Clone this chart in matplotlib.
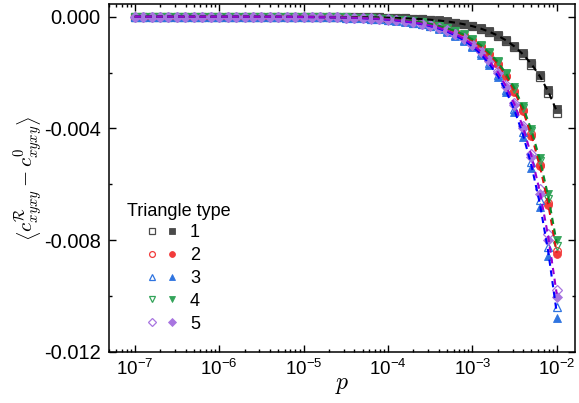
import numpy as np
import matplotlib
matplotlib.use('Agg')
import matplotlib.pyplot as plt
from matplotlib.lines import Line2D
from matplotlib.legend_handler import HandlerTuple
from matplotlib.ticker import FormatStrFormatter, MultipleLocator, LogLocator, NullFormatter

plt.rcParams['font.family'] = ['Liberation Sans', 'DejaVu Sans']
plt.rcParams['mathtext.fontset'] = 'cm'
plt.rcParams['axes.unicode_minus'] = False

# p grid: ten points per decade from 1e-7 to 1e-2
mant = [1.00, 1.26, 1.58, 2.00, 2.51, 3.16, 3.98, 5.01, 6.31, 7.94]
p = [m * 10.0**e for e in range(-7, -2) for m in mant] + [1e-2]

# magnitudes of <c^R - c^0>, in units of 1e-4 (values are negative)
black_o = [0.000, 0.000, 0.001, 0.001, 0.001, 0.001, 0.001, 0.002, 0.002, 0.003,
           0.003, 0.004, 0.005, 0.007, 0.009, 0.011, 0.014, 0.017, 0.022, 0.027,
           0.035, 0.043, 0.055, 0.069, 0.087, 0.109, 0.137, 0.173, 0.218, 0.274,
           0.35, 0.43, 0.55, 0.69, 0.87, 1.09, 1.37, 1.73, 2.18, 2.74,
           3.45, 4.34, 5.47, 6.88, 8.67, 10.91, 13.73, 17.29, 21.77, 27.40,
           34.5]
black_f = [0.000, 0.000, 0.001, 0.001, 0.001, 0.001, 0.001, 0.002, 0.002, 0.003,
           0.003, 0.004, 0.005, 0.007, 0.008, 0.010, 0.013, 0.017, 0.021, 0.026,
           0.033, 0.042, 0.052, 0.066, 0.083, 0.104, 0.131, 0.165, 0.208, 0.262,
           0.33, 0.42, 0.52, 0.66, 0.83, 1.04, 1.31, 1.65, 2.08, 2.62,
           3.30, 4.15, 5.23, 6.58, 8.29, 10.43, 13.14, 16.54, 20.82, 26.21,
           33.0]
red_o = [0.001, 0.001, 0.001, 0.002, 0.002, 0.003, 0.003, 0.004, 0.005, 0.007,
         0.008, 0.011, 0.013, 0.017, 0.021, 0.027, 0.033, 0.042, 0.053, 0.067,
         0.084, 0.106, 0.133, 0.168, 0.211, 0.266, 0.334, 0.421, 0.530, 0.667,
         0.84, 1.06, 1.33, 1.68, 2.11, 2.66, 3.34, 4.21, 5.30, 6.67,
         8.40, 10.58, 13.31, 16.76, 21.10, 26.56, 33.44, 42.10, 53.00, 66.72,
         84.0]
red_f = [0.001, 0.001, 0.001, 0.002, 0.002, 0.003, 0.003, 0.004, 0.005, 0.007,
         0.009, 0.011, 0.013, 0.017, 0.021, 0.027, 0.034, 0.043, 0.054, 0.068,
         0.085, 0.107, 0.135, 0.170, 0.214, 0.269, 0.338, 0.426, 0.536, 0.675,
         0.85, 1.07, 1.35, 1.70, 2.14, 2.69, 3.38, 4.26, 5.36, 6.75,
         8.50, 10.70, 13.47, 16.96, 21.35, 26.88, 33.84, 42.60, 53.64, 67.52,
         85.0]
blue_o = [0.001, 0.001, 0.002, 0.002, 0.003, 0.003, 0.004, 0.005, 0.007, 0.008,
          0.010, 0.013, 0.016, 0.021, 0.026, 0.033, 0.041, 0.052, 0.066, 0.083,
          0.104, 0.131, 0.165, 0.208, 0.261, 0.329, 0.414, 0.521, 0.656, 0.826,
          1.04, 1.31, 1.65, 2.08, 2.61, 3.29, 4.14, 5.21, 6.56, 8.26,
          10.40, 13.09, 16.48, 20.75, 26.12, 32.88, 41.40, 52.12, 65.62, 82.61,
          104.0]
blue_f = [0.001, 0.001, 0.002, 0.002, 0.003, 0.003, 0.004, 0.005, 0.007, 0.009,
          0.011, 0.014, 0.017, 0.022, 0.027, 0.034, 0.043, 0.054, 0.068, 0.086,
          0.108, 0.136, 0.171, 0.216, 0.271, 0.342, 0.430, 0.541, 0.682, 0.858,
          1.08, 1.36, 1.71, 2.16, 2.71, 3.42, 4.30, 5.41, 6.82, 8.58,
          10.80, 13.60, 17.12, 21.55, 27.13, 34.15, 42.99, 54.13, 68.15, 85.78,
          108.0]
green_o = [0.001, 0.001, 0.001, 0.002, 0.002, 0.003, 0.003, 0.004, 0.005, 0.007,
           0.008, 0.010, 0.013, 0.016, 0.021, 0.026, 0.033, 0.041, 0.052, 0.065,
           0.082, 0.103, 0.130, 0.164, 0.206, 0.259, 0.326, 0.411, 0.517, 0.651,
           0.82, 1.03, 1.30, 1.64, 2.06, 2.59, 3.26, 4.11, 5.17, 6.51,
           8.20, 10.32, 13.00, 16.36, 20.60, 25.93, 32.64, 41.10, 51.74, 65.13,
           82.0]
green_f = [0.001, 0.001, 0.001, 0.002, 0.002, 0.003, 0.003, 0.004, 0.005, 0.006,
           0.008, 0.010, 0.013, 0.016, 0.020, 0.025, 0.032, 0.040, 0.050, 0.064,
           0.080, 0.101, 0.127, 0.160, 0.201, 0.253, 0.319, 0.401, 0.505, 0.635,
           0.80, 1.01, 1.27, 1.60, 2.01, 2.53, 3.19, 4.01, 5.05, 6.35,
           8.00, 10.07, 12.68, 15.96, 20.10, 25.30, 31.85, 40.10, 50.48, 63.54,
           80.0]
purple_o = [0.001, 0.001, 0.002, 0.002, 0.002, 0.003, 0.004, 0.005, 0.006, 0.008,
            0.010, 0.012, 0.016, 0.020, 0.025, 0.031, 0.039, 0.049, 0.062, 0.078,
            0.098, 0.123, 0.155, 0.196, 0.246, 0.310, 0.390, 0.491, 0.618, 0.778,
            0.98, 1.23, 1.55, 1.96, 2.46, 3.10, 3.90, 4.91, 6.18, 7.78,
            9.80, 12.34, 15.53, 19.55, 24.62, 30.99, 39.01, 49.12, 61.84, 77.84,
            98.0]
purple_f = [0.001, 0.001, 0.002, 0.002, 0.003, 0.003, 0.004, 0.005, 0.006, 0.008,
            0.010, 0.013, 0.016, 0.020, 0.025, 0.032, 0.040, 0.050, 0.063, 0.080,
            0.101, 0.127, 0.159, 0.201, 0.253, 0.318, 0.400, 0.504, 0.634, 0.798,
            1.01, 1.27, 1.59, 2.01, 2.53, 3.18, 4.00, 5.04, 6.34, 7.98,
            10.05, 12.65, 15.93, 20.05, 25.25, 31.78, 40.01, 50.37, 63.42, 79.83,
            100.5]

labels = ['1', '2', '3', '4', '5']
opens = [black_o, red_o, blue_o, green_o, purple_o]
fills = [black_f, red_f, blue_f, green_f, purple_f]
markers = ['s', 'o', '^', 'v', 'D']
msizes = [5.6, 5.6, 6.2, 6.2, 5.0]
mcolors = ['#4a4a4a', '#f23b3b', '#2f74e0', '#33a45a', '#a875e0']
lcolors = ['#000000', '#e01010', '#0000ff', '#0a8a2a', '#9a00d0']

fig = plt.figure(figsize=(5.79, 4.03), dpi=100)
ax = fig.add_axes([0.1883, 0.1273, 0.8048, 0.8627])

p = np.array(p)
for o, f, mk, ms, mc in zip(opens, fills, markers, msizes, mcolors):
    ax.plot(p, -np.array(o) * 1e-4, linestyle='none', marker=mk, ms=ms,
            mfc='none', mec=mc, mew=0.9, zorder=2)
    ax.plot(p, -np.array(f) * 1e-4, linestyle='none', marker=mk, ms=ms,
            mfc=mc, mec=mc, mew=0.6, zorder=2)

# dashed guide through each pair of series
for o, f, lc in zip(opens, fills, lcolors):
    mid = -0.5 * (np.array(o) + np.array(f)) * 1e-4
    ax.plot(p, mid, linestyle=(0, (3.0, 2.2)), color=lc, lw=1.5, zorder=3)

ax.set_xscale('log')
ax.set_xlim(10**-7.305, 10**-1.783)
ax.set_ylim(-0.012, 0.000455)
ax.xaxis.set_major_locator(LogLocator(base=10, numticks=20))
ax.xaxis.set_minor_locator(LogLocator(base=10, subs=np.arange(2, 10), numticks=20))
ax.xaxis.set_minor_formatter(NullFormatter())
ax.yaxis.set_major_locator(MultipleLocator(0.004))
ax.yaxis.set_minor_locator(MultipleLocator(0.002))
ax.yaxis.set_major_formatter(FormatStrFormatter('%.3f'))

ax.tick_params(which='both', direction='in', top=True, right=True, width=1.0)
ax.tick_params(which='major', length=5)
ax.tick_params(which='minor', length=2.5)
ax.tick_params(axis='x', labelsize=13.5, pad=5.5)
ax.tick_params(axis='y', labelsize=14.5, pad=6)
for s in ax.spines.values():
    s.set_linewidth(1.1)

ax.set_xlabel(r'$p$', fontsize=17, labelpad=-4)
ax.set_ylabel(r'$\left\langle c^{\mathcal{R}}_{xyxy} - c^{0}_{xyxy} \right\rangle$',
              fontsize=15, labelpad=0)

handles = []
for mk, mc in zip(markers, mcolors):
    ho = Line2D([], [], linestyle='none', marker=mk, ms=4.2, mfc='none', mec=mc, mew=0.9)
    hf = Line2D([], [], linestyle='none', marker=mk, ms=4.2, mfc=mc, mec=mc, mew=0.6)
    handles.append((ho, hf))
ax.legend(handles, labels, handler_map={tuple: HandlerTuple(ndivide=None, pad=0.556)},
          loc='upper left', bbox_to_anchor=(0.0815, 0.366),
          frameon=False, fontsize=13, handlelength=1.667,
          handletextpad=0.72, labelspacing=0.32, borderpad=0, borderaxespad=0)
ax.text(0.0386, 0.391, 'Triangle type', transform=ax.transAxes,
        fontsize=13, ha='left', va='baseline')

fig.savefig('out.png', dpi=100)
